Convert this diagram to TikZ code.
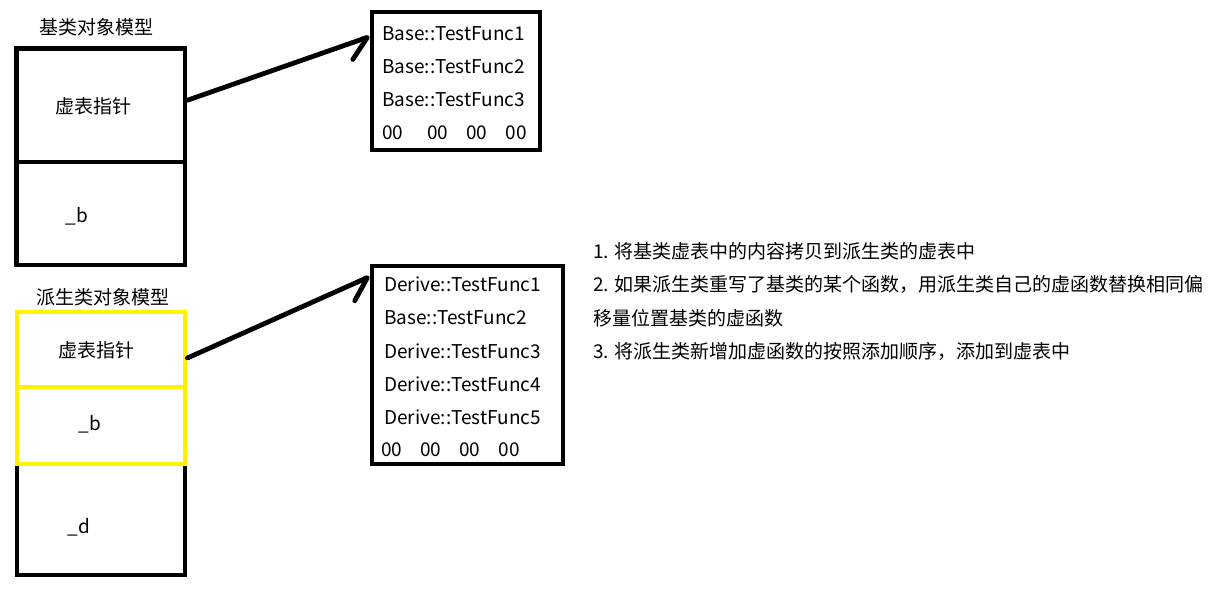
\documentclass[tikz,border=0pt]{standalone}
\usepackage{fontspec}
\setmainfont{Noto Sans CJK SC}
\usetikzlibrary{arrows.meta}
\definecolor{paintyellow}{RGB}{255,242,0}
\tikzset{
  cell/.style={draw=black, line width=4.8pt, inner sep=0pt},
  ycell/.style={draw=paintyellow, line width=4.8pt, inner sep=0pt},
  txt/.style={inner sep=0pt, font=\fontsize{19pt}{22pt}\selectfont},
  row/.style={txt, anchor=west},
  conn/.style={line width=4.8pt, line cap=round,
    -{Straight Barb[harpoon, swap, round, length=21pt, width=32pt]}}
}
\begin{document}
\begin{tikzpicture}[x=1pt,y=-1pt]
\useasboundingbox (0,0) rectangle (1222,592);
% ---------- base object ----------
\node[txt] (t1) at (96,27) {基类对象模型};
\node[cell, minimum width=168.5pt, minimum height=113.5pt] (bptr) at (100.75,105.25) {};
\node[cell, minimum width=168.5pt, minimum height=103pt] (bb) at (100.75,213.5) {};
\node[txt] (bptrt) at (93,106) {虚表指针};
\node[txt] (bbt) at (77,216) {\_b};
% ---------- base vtable ----------
\node[cell, minimum width=168pt, minimum height=138pt] (bvt) at (456,81) {};
\node[row] (bv1) at (382,34) {Base::TestFunc1};
\node[row] (bv2) at (382,67) {Base::TestFunc2};
\node[row] (bv3) at (382,100) {Base::TestFunc3};
\node[row] (bv4) at (382,133) {00\hspace{24pt}00\hspace{18pt}00\hspace{18pt}00};
% ---------- derived object ----------
\node[txt] (t2) at (103,297) {派生类对象模型};
\node[cell, minimum width=168pt, minimum height=263pt] (dall) at (101,443.5) {};
\node[ycell, minimum width=168pt, minimum height=75pt] (dptr) at (101,349.5) {};
\node[ycell, minimum width=168pt, minimum height=77pt] (db) at (101,425.5) {};
\node[txt] (dptrt) at (96,350) {虚表指针};
\node[txt] (dbt) at (90,424) {\_b};
\node[txt] (ddt) at (79,527) {\_d};
% ---------- derived vtable ----------
\node[cell, minimum width=191pt, minimum height=198pt] (dvt) at (467.5,365) {};
\node[row] (dv1) at (384,284) {Derive::TestFunc1};
\node[row] (dv2) at (384,318) {Base::TestFunc2};
\node[row] (dv3) at (384,351) {Derive::TestFunc3};
\node[row] (dv4) at (384,384) {Derive::TestFunc4};
\node[row] (dv5) at (384,417) {Derive::TestFunc5};
\node[row] (dv6) at (381,450) {00\hspace{18pt}00\hspace{18pt}00\hspace{18pt}00};
% ---------- notes ----------
\node[row] (n1) at (593,251) {1. 将基类虚表中的内容拷贝到派生类的虚表中};
\node[row] (n2) at (593,284) {2. 如果派生类重写了基类的某个函数，用派生类自己的虚函数替换相同偏};
\node[row] (n3) at (593,318) {移量位置基类的虚函数};
\node[row] (n4) at (593,351) {3. 将派生类新增加虚函数的按照添加顺序，添加到虚表中};
% ---------- connectors ----------
\draw[conn] ([yshift=5pt]bptr.east) -- ([yshift=-27pt]bvt.north west);
\draw[conn] ([yshift=-8.5pt]dptr.east) -- ([yshift=-13pt]dvt.north west);
\end{tikzpicture}
\end{document}
